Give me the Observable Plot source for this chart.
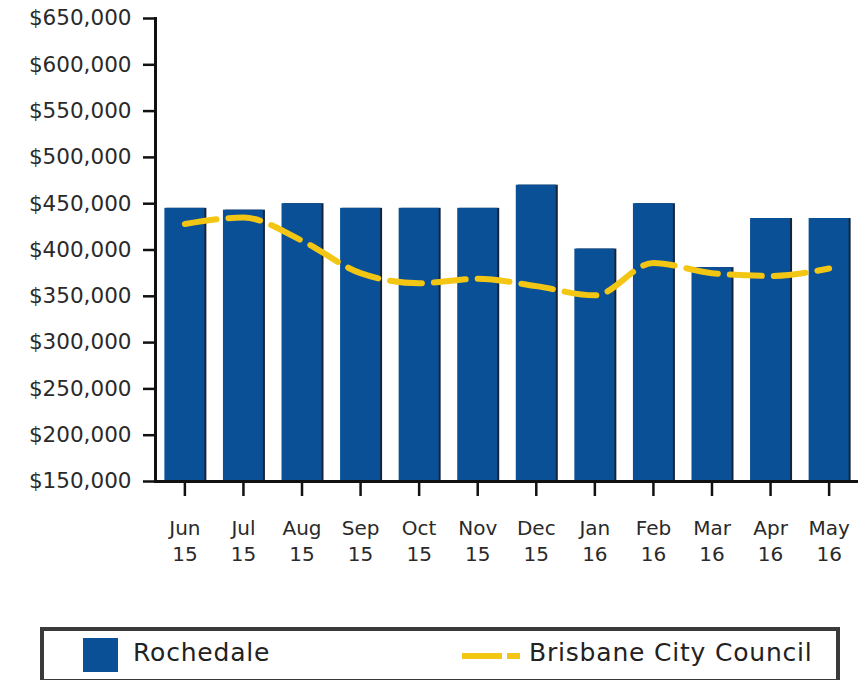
<!DOCTYPE html>
<html>
<head>
<meta charset="utf-8">
<script src="https://cdn.jsdelivr.net/npm/d3@7"></script>
<script src="https://cdn.jsdelivr.net/npm/@observablehq/plot@0.6"></script>
<style>
  html, body { margin: 0; padding: 0; background: #fff; }
  #wrap { position: relative; width: 860px; height: 680px; overflow: hidden; font-family: "DejaVu Sans", Verdana, sans-serif; }
  #legend { position: absolute; left: 40px; top: 627px; width: 792px; height: 48px; border: 4px solid #3a3a3a; background: #fff; }
  .sw { position: absolute; top: 7px; left: 39px; width: 35px; height: 34px; background: #0a5096; }
  .lab { position: absolute; top: 7px; font-size: 25px; letter-spacing: 0.8px; color: #222; }
  .dash { position: absolute; top: 22px; height: 6px; background: #f3c614; }
</style>
</head>
<body>
<div id="wrap">
  <div id="chart"></div>
  <div id="legend">
    <div class="sw"></div>
    <div class="lab" style="left:89px">Rochedale</div>
    <div class="dash" style="left:418px;width:40px"></div>
    <div class="dash" style="left:463px;width:13px"></div>
    <div class="lab" style="left:485px">Brisbane City Council</div>
  </div>
</div>
<script>
const months = ["Jun 15","Jul 15","Aug 15","Sep 15","Oct 15","Nov 15","Dec 15","Jan 16","Feb 16","Mar 16","Apr 16","May 16"];
const rochedale = [445000, 443000, 450000, 445000, 445000, 445000, 470000, 401000, 450000, 381000, 434000, 434000];
const brisbane = [428000, 435000, 410000, 375000, 364000, 369000, 361000, 351000, 386000, 375000, 372000, 380000];
const yTicks = [150000, 200000, 250000, 300000, 350000, 400000, 450000, 500000, 550000, 600000, 650000];
const yMin = 150000, yMax = 650000;

const data = months.map((m, i) => ({month: m, roch: rochedale[i], bcc: brisbane[i]}));

const chart = Plot.plot({
  width: 860,
  height: 600,
  marginTop: 18,
  marginBottom: 119,
  marginLeft: 155,
  marginRight: 2,
  style: {fontFamily: "DejaVu Sans, Verdana, sans-serif", color: "#2a2a2a", background: "#fff"},
  x: {type: "band", domain: months, paddingInner: 0.317, paddingOuter: 0.16, align: 0.5, round: false},
  y: {domain: [yMin, yMax]},
  marks: [
    Plot.barY(data, {x: "month", y1: () => yMin, y2: "roch", fill: "#16243a", dx: 2}),
    Plot.barY(data, {x: "month", y1: () => yMin, y2: "roch", fill: "#0a5096"}),
    Plot.line(data, {x: "month", y: "bcc", stroke: "#f3c614", strokeWidth: 6, strokeDasharray: "32,12", curve: "monotone-x"}),
    Plot.axisY({ticks: yTicks, tickFormat: d => "$" + d3.format(",")(d), tickSize: 12, tickPadding: 12, fontSize: 21.5, stroke: "#111", strokeWidth: 2.5, label: null, style: "letter-spacing:2.4px"}),
    Plot.axisX({tickFormat: d => d.replace(" ", "\n"), tickSize: 15, tickPadding: 20, fontSize: 20, lineHeight: 1.3, stroke: "#111", strokeWidth: 2.5, label: null}),
    Plot.ruleY([yMin], {stroke: "#111", strokeWidth: 3}),
    Plot.frame({anchor: "left", stroke: "#111", strokeWidth: 3})
  ]
});
document.getElementById("chart").appendChild(chart);
</script>
</body>
</html>
